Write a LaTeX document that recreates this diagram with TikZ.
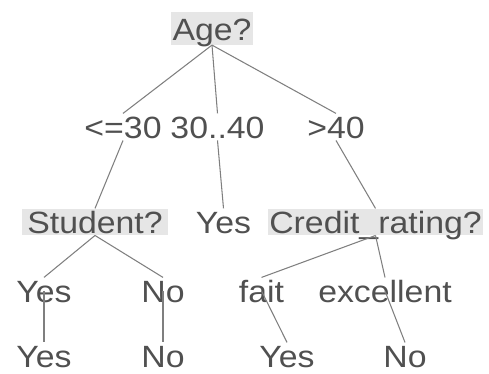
\documentclass[tikz,border=0pt]{standalone}
\usepackage{fontspec}
\setmainfont{Liberation Sans}[FakeStretch=1.1]
\usepackage{xcolor}
\usepackage{tikz}
\definecolor{txtgray}{HTML}{505050}
\definecolor{linegray}{HTML}{7F7F7F}
\definecolor{boxgray}{HTML}{E6E6E6}

\begin{document}
\begin{tikzpicture}[x=0.02cm,y=-0.02cm,
  lbl/.style={anchor=base,text=txtgray,font=\fontsize{17.5}{20}\selectfont,
    text height=12.6pt,text depth=0pt,inner xsep=1pt,inner ysep=1.2pt},
  test/.style={lbl,fill=boxgray},
  branch/.style={draw=linegray,line width=0.6pt}]
 \useasboundingbox (0,0) rectangle (489,373);
 \node[test,text height=15pt,text depth=1.5pt] (age) at (212,40) {Age?};
 \node[lbl] (le30) at (123,138) {<=30};
 \node[lbl] (mid) at (217.5,138) {30..40};
 \node[lbl] (gt40) at (336,138) {>40};
 \node[test,inner xsep=3pt] (student) at (95,233) {Student?};
 \node[lbl] (yesA) at (223.5,233) {Yes};
 \node[test] (credit) at (375.5,233) {Credit\_rating?};
 \node[lbl] (yesS) at (44,302) {Yes};
 \node[lbl] (noS) at (163,302) {No};
 \node[lbl] (fait) at (261.5,302) {fait};
 \node[lbl] (exc) at (385,302) {excellent};
 \node[lbl] (yesB) at (44,367) {Yes};
 \node[lbl] (noB) at (163,367) {No};
 \node[lbl] (yesC) at (287,367) {Yes};
 \node[lbl] (noC) at (405,367) {No};
 \draw[branch] (age.south) -- (le30.north);
 \draw[branch] (age.south) -- (mid.north);
 \draw[branch] (age.south) -- (gt40.north);
 \draw[branch] (le30.south) -- (student.north);
 \draw[branch] (mid.south) -- (yesA.north);
 \draw[branch] (gt40.south) -- (credit.north);
 \draw[branch] (student.south) -- (yesS.north);
 \draw[branch] (student.south) -- (noS.north);
 \draw[branch] (credit.south) -- (fait.north);
 \draw[branch] (credit.south) -- (exc.north);
 \draw[branch] (yesS.center) -- (yesB.north);
 \draw[branch] (noS.center) -- (noB.north);
 \draw[branch] (fait.center) -- (yesC.north);
 \draw[branch] (exc.center) -- (noC.north);
\end{tikzpicture}
\end{document}
